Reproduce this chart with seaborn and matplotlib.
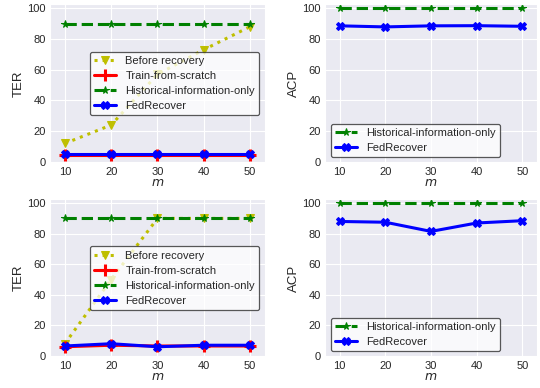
import matplotlib
matplotlib.use("Agg")
import matplotlib.pyplot as plt
import seaborn as sns
import numpy as np

m = [10, 20, 30, 40, 50]

# top row
ter1_before = [12, 24, 57, 73, 88]
ter1_scratch = [4.5, 4.5, 4.5, 4.5, 4.5]
ter1_hist = [90, 90, 90, 90, 90]
ter1_fed = [5, 5, 5, 5, 5]
acp1_hist = [100, 100, 100, 100, 100]
acp1_fed = [88.5, 87.8, 88.5, 88.6, 88.2]

# bottom row
ter2_before = [8, 50, 90, 90, 90]
ter2_scratch = [6, 7, 6.5, 6.5, 6.5]
ter2_hist = [90, 90, 90, 90, 90]
ter2_fed = [6.5, 8, 6, 7, 7]
acp2_hist = [100, 100, 100, 100, 100]
acp2_fed = [88, 87.5, 81.5, 87, 88.5]

sns.set_style("darkgrid")
plt.rcParams['font.family'] = ['Liberation Sans', 'DejaVu Sans']
plt.rcParams['text.color'] = '#262626'
plt.rcParams['axes.labelcolor'] = '#262626'
plt.rcParams['xtick.color'] = '#262626'
plt.rcParams['ytick.color'] = '#262626'

fig = plt.figure(figsize=(5.4, 3.88), dpi=100)
pos = {
    'tl': [0.0926, 0.5799, 0.3981, 0.4098],
    'tr': [0.6019, 0.5799, 0.3925, 0.4098],
    'bl': [0.0926, 0.0799, 0.3981, 0.4072],
    'br': [0.6019, 0.0799, 0.3925, 0.4072],
}

styles = {
    'Before recovery': dict(color='y', marker='v', linestyle=':', linewidth=2.2, markersize=6),
    'Train-from-scratch': dict(color='r', marker='+', linestyle='-', linewidth=2.2, markersize=8, markeredgewidth=2.2),
    'Historical-information-only': dict(color='g', marker='*', linestyle='--', linewidth=2.2, markersize=5.5),
    'FedRecover': dict(color='b', marker='X', linestyle='-', linewidth=2.2, markersize=6),
}

def draw(ax, series, ylabel, legend_loc):
    for name, vals in series:
        st = dict(styles[name])
        st['markeredgecolor'] = st['color']
        sns.lineplot(x=m, y=vals, ax=ax, label=name, **st)
    ax.set_xlim(6.8, 53.2)
    ax.set_ylim(-0.7, 102.7)
    ax.set_xticks(m)
    ax.set_yticks([0, 20, 40, 60, 80, 100])
    ax.tick_params(labelsize=8, pad=3, length=0)
    ax.set_xlabel('$m$', fontsize=9, labelpad=0)
    ax.set_ylabel(ylabel, fontsize=9.5, labelpad=2)
    leg = ax.legend(loc=legend_loc, fontsize=8, frameon=True, fancybox=True,
                    handlelength=2.0, borderaxespad=0.5, labelspacing=0.45,
                    handletextpad=0.8)
    leg.get_frame().set_edgecolor('#222222')
    leg.get_frame().set_facecolor('white')
    leg.get_frame().set_alpha(0.75)
    leg.get_frame().set_linewidth(0.9)

ax = fig.add_axes(pos['tl'])
draw(ax, [('Before recovery', ter1_before), ('Train-from-scratch', ter1_scratch),
          ('Historical-information-only', ter1_hist), ('FedRecover', ter1_fed)], 'TER', 'center right')
ax = fig.add_axes(pos['tr'])
draw(ax, [('Historical-information-only', acp1_hist), ('FedRecover', acp1_fed)], 'ACP', 'lower left')
ax = fig.add_axes(pos['bl'])
draw(ax, [('Before recovery', ter2_before), ('Train-from-scratch', ter2_scratch),
          ('Historical-information-only', ter2_hist), ('FedRecover', ter2_fed)], 'TER', 'center right')
ax = fig.add_axes(pos['br'])
draw(ax, [('Historical-information-only', acp2_hist), ('FedRecover', acp2_fed)], 'ACP', 'lower left')

fig.savefig('out.png', dpi=100)
